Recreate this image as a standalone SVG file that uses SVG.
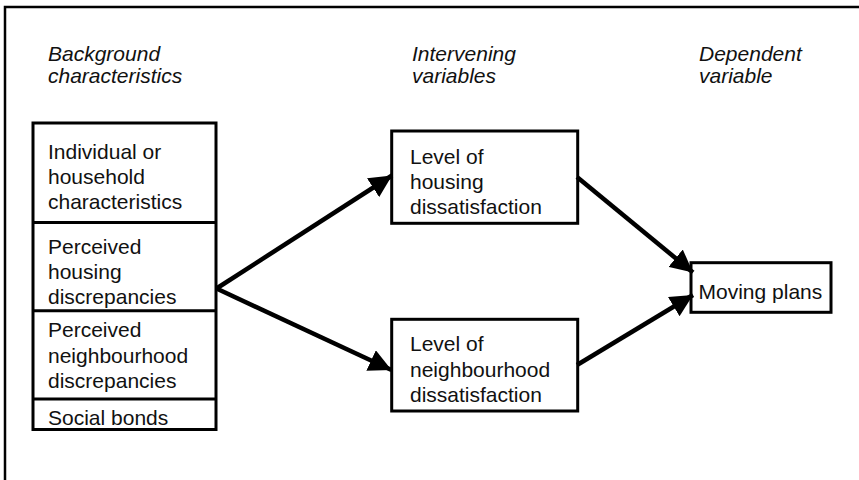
<svg xmlns="http://www.w3.org/2000/svg" width="859" height="480" viewBox="0 0 859 480">
<defs>
<style>
text{font-family:"Liberation Sans",Arial,sans-serif;font-size:21px;fill:#111}
.h{font-style:italic}
.box{fill:#fff;stroke:#000;stroke-width:3}
.div{stroke:#000;stroke-width:3}
.con{stroke:#000;stroke-width:4.5;fill:none;marker-end:url(#ah)}
</style>
<marker id="ah" markerWidth="6" markerHeight="5" refX="5" refY="2.5" orient="auto" markerUnits="strokeWidth">
<path d="M0,0 L5,2.5 L0,5 z" fill="#000"/>
</marker>
</defs>
<rect width="859" height="480" fill="#fff"/>
<polyline points="5,480 5,7 859,7" fill="none" stroke="#000" stroke-width="2.5"/>
<g id="headers">
<text class="h" x="48" y="60.5">Background</text>
<text class="h" x="48" y="83">characteristics</text>
<text class="h" x="412" y="60.5">Intervening</text>
<text class="h" x="412" y="83">variables</text>
<text class="h" x="699" y="60.5">Dependent</text>
<text class="h" x="699" y="83">variable</text>
</g>
<g id="background">
<rect class="box" x="33" y="123" width="183" height="306.5"/>
<line class="div" x1="33" y1="222.5" x2="216" y2="222.5"/>
<line class="div" x1="33" y1="310.7" x2="216" y2="310.7"/>
<line class="div" x1="33" y1="399" x2="216" y2="399"/>
<text x="48" y="158.5">Individual or</text>
<text x="48" y="183.5">household</text>
<text x="48" y="208.5">characteristics</text>
<text x="48" y="253.5">Perceived</text>
<text x="48" y="278.5">housing</text>
<text x="48" y="303.5">discrepancies</text>
<text x="48" y="337">Perceived</text>
<text x="48" y="363">neighbourhood</text>
<text x="48" y="387.5">discrepancies</text>
<text x="48" y="425">Social bonds</text>
</g>
<g id="housing">
<rect class="box" x="391.7" y="131" width="186" height="92.3"/>
<text x="410" y="163.5">Level of</text>
<text x="410" y="188.5">housing</text>
<text x="410" y="213.5">dissatisfaction</text>
</g>
<g id="neighbourhood">
<rect class="box" x="391.7" y="319.3" width="186" height="91.7"/>
<text x="410" y="350.5">Level of</text>
<text x="410" y="376.5">neighbourhood</text>
<text x="410" y="401.5">dissatisfaction</text>
</g>
<g id="moving">
<rect class="box" x="691" y="262.7" width="140" height="49.6"/>
<text x="698.5" y="298.5">Moving plans</text>
</g>
<g id="connectors">
<line class="con" x1="216.5" y1="288.5" x2="392" y2="175.5"/>
<line class="con" x1="216.5" y1="288.5" x2="391.5" y2="370"/>
<line class="con" x1="577" y1="177" x2="693" y2="272.5"/>
<line class="con" x1="577" y1="365" x2="693" y2="295"/>
</g>
</svg>
